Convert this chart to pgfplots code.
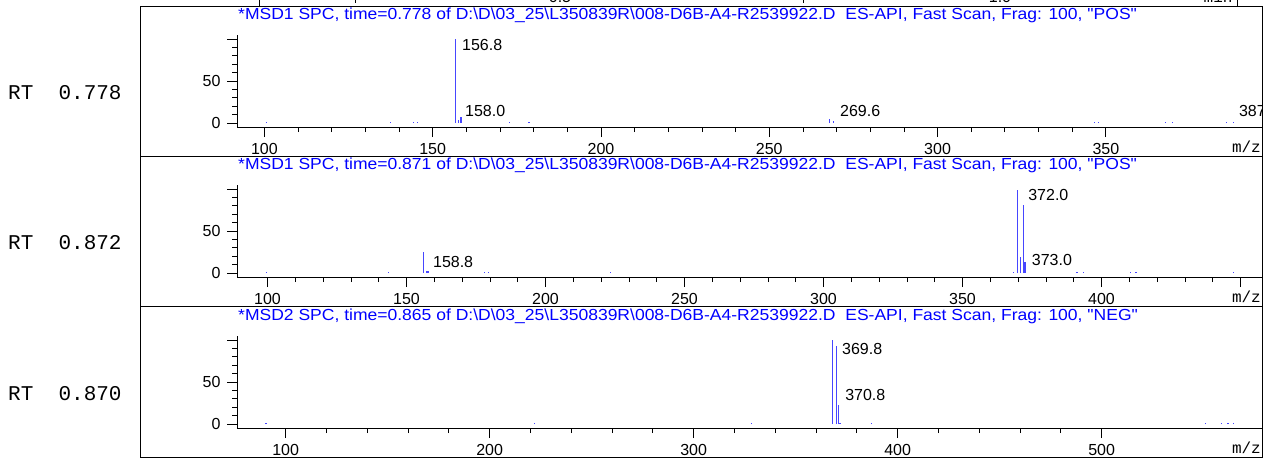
\documentclass[border=0pt]{standalone}
\usepackage{graphicx}
\usepackage{pgfplots}
\pgfplotsset{compat=1.18}
\usepackage{fontspec}
\setmainfont{Liberation Sans}[Ligatures=TeXOff]
\newfontfamily\mono{Liberation Mono}[Ligatures=TeXOff]
\definecolor{msblue}{RGB}{0,0,255}
\definecolor{pkblue}{RGB}{70,70,255}
\pgfplotsset{
  mspanel/.style={
    scale only axis, width=1025pt, height=92pt,
    anchor=south west,
    axis x line*=bottom, axis y line*=left,
    ymin=-4.7619, ymax=104.7619,
    ytick={0,50,100}, yticklabels={0,50,{}},
    minor ytick={10,20,30,40,60,70,80,90},
    tick align=outside,
    major tick length=10pt, minor tick length=5pt,
    every tick/.style={black, line width=0.8pt},
    every minor tick/.style={black, line width=0.8pt},
    axis line style={black, line width=0.9pt, -},
    tick label style={font=\fontsize{16}{16}\selectfont, text=black},
    xticklabel style={yshift=-3pt},
    yticklabel style={xshift=-3pt},
    /pgf/number format/assume math mode=true,
    clip=true,
  },
  pk/.style={ycomb, color=pkblue, line width=1.2pt, mark=none, forget plot},
}
\tikzset{pklab/.style={anchor=west, inner sep=0pt, font=\fontsize{16}{16}\selectfont}}
\newcommand{\ttl}[1]{\scalebox{1.095}[1]{#1}}
\begin{document}
\begin{tikzpicture}[x=1pt,y=1pt]
\useasboundingbox (0,0) rectangle (1271,459);
% remnant of the chart above
\draw[line width=0.9pt] (259,462) -- (259,453) -- (1237,453) -- (1237,462);
\begin{scope}
\clip (0,452) rectangle (1271,459);
\node[anchor=base, font=\fontsize{16}{16}\selectfont] at (560,456.5) {0.5};
\node[anchor=base, font=\fontsize{16}{16}\selectfont] at (1000,456.5) {1.0};
\node[anchor=base east, font=\mono\fontsize{16}{16}\selectfont] at (1236,456.5) {min};
\draw[line width=0.8pt] (355,459) -- (355,456);
\draw[line width=0.8pt] (803,459) -- (803,456);
\end{scope}
% panel frames
\draw[line width=0.9pt] (140,453) rectangle (1262,303);
\draw[line width=0.9pt] (140,303) rectangle (1262,153);
\draw[line width=0.9pt] (140,153) rectangle (1262,2);
% ---------- panel 1 ----------
\begin{axis}[mspanel, at={(237pt,332pt)},
  xmin=91.86, xmax=396.4,
  xtick={100,150,200,250,300,350}, minor x tick num=4]
\addplot[pk] coordinates {
 (100.6,1.2) (137.5,1.0) (144.3,1.0) (145.4,1.0)
 (156.8,100) (157.7,3.5) (158.4,7.5)
 (172.8,1.0) (178.6,1.0)
 (267.8,4.5) (269.0,2.5)
 (346.6,1.0) (347.8,1.0) (367.7,1.0) (369.8,1.0) (385.8,1.2) (387.9,1.5)
};
\node[pklab] at (axis cs:158.7,92.9) {156.8};
\node[pklab] at (axis cs:159.6,14.3) {158.0};
\node[pklab] at (axis cs:271.0,14.3) {269.6};
\node[pklab] at (axis cs:389.5,14.3) {387.9};
\end{axis}
% ---------- panel 2 ----------
\begin{axis}[mspanel, at={(237pt,182pt)},
  xmin=89.03, xmax=457.74,
  xtick={100,150,200,250,300,350,400,450},
  xticklabels={100,150,200,250,300,350,400,{}}, minor x tick num=4]
\addplot[pk] coordinates {
 (99.6,1.2) (143.5,1.0)
 (156.2,25) (157.1,2) (157.7,2.5)
 (178.0,1.0) (179.4,1.0) (223.4,1.0)
 (368.2,0.8) (369.64,99) (370.84,19) (371.8,81) (372.28,13.5) (372.76,13.5)
 (391.2,1.0) (393.4,1.0) (410.3,1.0) (412.4,1.0) (447.4,1.0)
};
\node[pklab] at (axis cs:159.5,13.5) {158.8};
\node[pklab] at (axis cs:373.6,92.9) {372.0};
\node[pklab] at (axis cs:374.9,15.5) {373.0};
\end{axis}
% ---------- panel 3 ----------
\begin{axis}[mspanel, at={(237pt,31pt)},
  xmin=76.13, xmax=578.6,
  xtick={100,200,300,400,500}, minor x tick num=4]
\addplot[pk] coordinates {
 (90.3,1.0) (222.0,1.0) (328.5,1.0)
 (368.1,100) (370.0,93) (371.0,23) (371.7,1.5)
 (387.3,1.0) (550.9,1.0) (558.9,1.0) (561.9,1.0) (564.5,1.0)
};
\node[pklab] at (axis cs:372.7,89.3) {369.8};
\node[pklab] at (axis cs:374.2,34.5) {370.8};
\end{axis}
% titles
\begin{scope}[every node/.style={anchor=west, inner sep=0pt, text=msblue, font=\fontsize{16}{16}\selectfont}]
\node at (238,444) {\ttl{*MSD1 SPC, time=0.778 of D:\textbackslash D\textbackslash 03\_25\textbackslash L350839R\textbackslash 008-D6B-A4-R2539922.D\ \ ES-API, Fast Scan, Frag: 100, "POS"}};
\node at (238,294) {\ttl{*MSD1 SPC, time=0.871 of D:\textbackslash D\textbackslash 03\_25\textbackslash L350839R\textbackslash 008-D6B-A4-R2539922.D\ \ ES-API, Fast Scan, Frag: 100, "POS"}};
\node at (238,143) {\ttl{*MSD2 SPC, time=0.865 of D:\textbackslash D\textbackslash 03\_25\textbackslash L350839R\textbackslash 008-D6B-A4-R2539922.D\ \ ES-API, Fast Scan, Frag: 100, "NEG"}};
\end{scope}
% RT labels
\begin{scope}[every node/.style={anchor=west, inner sep=0pt, font=\mono\fontsize{21}{21}\selectfont}]
\node at (8,366) {RT\ \ 0.778};
\node at (8,216) {RT\ \ 0.872};
\node at (8,65) {RT\ \ 0.870};
\end{scope}
% m/z
\begin{scope}[every node/.style={anchor=east, inner sep=0pt, font=\mono\fontsize{16}{16}\selectfont}]
\node at (1261,312) {m/z};
\node at (1261,162) {m/z};
\node at (1261,11) {m/z};
\end{scope}
\end{tikzpicture}
\end{document}
